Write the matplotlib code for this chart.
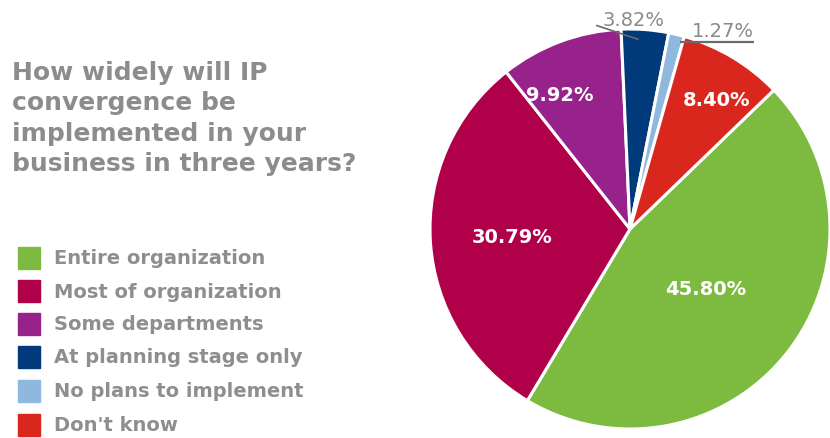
import matplotlib
matplotlib.use("Agg")
import matplotlib.pyplot as plt
import numpy as np

# Survey answers, in drawing order (clockwise from the red/green edge)
categories = ["Entire organization", "Most of organization", "Some departments",
              "At planning stage only", "No plans to implement", "Don't know"]
shares = [45.80, 30.79, 9.92, 3.82, 1.27, 8.40]
colors = ["#7cbb3f", "#b0004a", "#98228c", "#003a7a", "#8fb8de", "#d9271e"]

title = "How widely will IP\nconvergence be\nimplemented in your\nbusiness in three years?"

plt.rcParams["font.family"] = ["DejaVu Sans"]

W, H = 830, 439
fig = plt.figure(figsize=(W / 100, H / 100), dpi=100)

# pie: centre (630, 230) px, radius 200 px
cx, cy, r = 630, 230, 200
ax = fig.add_axes([(cx - r) / W, (H - cy - r) / H, 2 * r / W, 2 * r / H])
start = 44
wedges, _ = ax.pie(shares, colors=colors, startangle=start, counterclock=False,
                   radius=1, wedgeprops=dict(edgecolor="white", linewidth=2.2))
ax.set_xlim(-1, 1)
ax.set_ylim(-1, 1)
ax.set_aspect("equal")
ax.axis("off")

def mid(w, shift=0.0):
    a = np.deg2rad((w.theta1 + w.theta2) / 2 + shift)
    return np.cos(a), np.sin(a)

# white labels inside the bigger slices: (index, radial distance, angle nudge)
inside = [(0, 0.48, 0), (1, 0.59, 0), (2, 0.76, 7), (5, 0.78, -3)]
for i, dist, shift in inside:
    mx, my = mid(wedges[i], shift)
    ax.text(mx * dist, my * dist, f"{shares[i]:.2f}%", color="white",
            fontsize=14, fontweight="bold", ha="center", va="center")

# outside labels for the two thin slices
gray = "#8a8a8a"
line_c = "#6a6a6a"

# navy slice: slanted leader from the label's lower-left corner
mx, my = mid(wedges[3], 2)
ax.text(-0.14, 1.0, f"{shares[3]:.2f}%", fontsize=14, color=gray,
        ha="left", va="bottom", clip_on=False)
ax.plot([-0.165, mx * 0.95], [1.017, my * 0.95], color=line_c, lw=1.2,
        clip_on=False)

# light blue slice: underlined label
mx, my = mid(wedges[4])
ax.text(0.465, 0.945, f"{shares[4]:.2f}%", fontsize=14, color=gray,
        ha="center", va="bottom", clip_on=False)
ax.plot([mx * 0.99 + 0.02, 0.62], [0.935, 0.935], color=line_c, lw=1.6,
        clip_on=False, solid_capstyle="butt")

# question text
fig.text(12 / W, 1 - 61 / H, title, color="#8c8c8c", fontsize=18,
         fontweight="bold", ha="left", va="top", linespacing=1.33)

# legend
row_y = [259, 292, 325, 358, 392, 426]
for lab, col, y in zip(categories, colors, row_y):
    fig.patches.append(plt.Rectangle((18 / W, 1 - (y + 11) / H), 22 / W, 22 / H,
                                     transform=fig.transFigure, color=col))
    fig.text(54 / W, 1 - y / H, lab, color="#8e8e8e", fontsize=14,
             fontweight="bold", ha="left", va="center")

fig.savefig("out.png", dpi=100)
